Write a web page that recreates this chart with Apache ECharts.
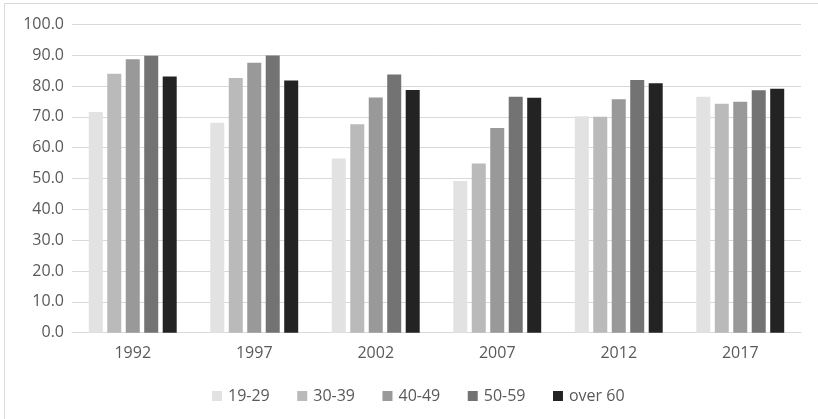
<!DOCTYPE html>
<html><head><meta charset="utf-8">
<script src="https://cdn.jsdelivr.net/npm/echarts@6/dist/echarts.min.js"></script>
<style>html,body{margin:0;padding:0;background:#fff}#c{width:818px;height:419px}</style>
</head><body><div id="c"></div>
<script>
const categories = ['1992','1997','2002','2007','2012','2017'];
const seriesNames = ['19-29','30-39','40-49','50-59','over 60'];
const v1929 = [71.6, 68.1, 56.5, 49.2, 70.2, 76.5];
const v3039 = [84.0, 82.6, 67.6, 54.9, 70.0, 74.2];
const v4049 = [88.7, 87.5, 76.3, 66.4, 75.7, 74.9];
const v5059 = [89.8, 89.9, 83.7, 76.5, 81.9, 78.6];
const vOver60 = [83.1, 81.8, 78.7, 76.2, 80.9, 79.1];
const colors = ['#e2e2e2','#bababa','#999999','#737373','#232323'];
const values = [v1929, v3039, v4049, v5059, vOver60];
const font = '"Open Sans", "Liberation Sans", sans-serif';
const chart = echarts.init(document.getElementById('c'));
chart.setOption({
  animation: false,
  graphic: [{type:'rect', shape:{x:4.5,y:3.5,width:830,height:430}, style:{fill:'none', stroke:'#d9d9d9', lineWidth:1}}],
  grid: {left:72, right:17, top:24.3, bottom:86.3},
  legend: {
    top: 383, left: 207, itemWidth: 10, itemHeight: 10, itemGap: 27.5,
    icon: 'rect',
    textStyle: {color:'#595959', fontSize:16, fontFamily:font, padding:[0,0,0,1]},
    data: seriesNames
  },
  xAxis: {
    type:'category', data: categories,
    axisLine:{lineStyle:{color:'#d9d9d9', width:1}},
    axisTick:{show:false},
    axisLabel:{color:'#595959', fontSize:16, fontFamily:font, margin:13}
  },
  yAxis: {
    type:'value', min:0, max:100, interval:10,
    axisLabel:{color:'#595959', fontSize:16, fontFamily:font, margin:8, formatter: v => v.toFixed(1)},
    splitLine:{lineStyle:{color:'#d9d9d9', width:1}},
    axisLine:{show:false}, axisTick:{show:false}
  },
  series: seriesNames.map((n,i) => ({
    name:n, type:'bar', data: values[i], barWidth:14, barGap:'32%',
    itemStyle:{color: colors[i]}
  }))
});
</script></body></html>
